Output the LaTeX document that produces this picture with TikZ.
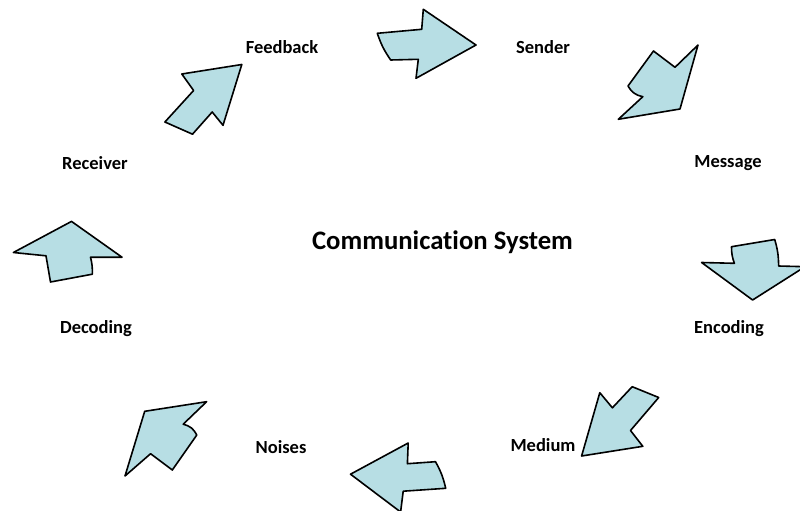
\documentclass[tikz,border=0pt]{standalone}
\usepackage{fontspec}
\setmainfont{Carlito}[Ligatures=NoCommon]
\definecolor{arrowfill}{RGB}{183,222,228}

\begin{document}
\begin{tikzpicture}[x=1pt,y=-1pt,
  blockarrow/.style={draw=black, fill=arrowfill, line width=1.6pt, line join=round},
  lbl/.style={font=\fontsize{18.5}{20}\selectfont\bfseries, inner sep=0pt},
  heading/.style={font=\fontsize{26.7}{30}\selectfont\bfseries, inner sep=0pt}]
\useasboundingbox (0,0) rectangle (800,511);
\clip (0,0) rectangle (800,511);
% labels
\node [heading] (system) at (442.5,242) {Communication System};
\node [lbl] (feedback) at (282,47) {Feedback};
\node [lbl] (sender) at (543,47) {Sender};
\node [lbl] (message) at (728,163) {Message};
\node [lbl] (encoding) at (729,329) {Encoding};
\node [lbl] (medium) at (543,445) {Medium};
\node [lbl] (noises) at (281,447) {Noises};
\node [lbl] (decoding) at (96,329) {Decoding};
\node [lbl] (receiver) at (95,163) {Receiver};
% feedback to sender
\draw [blockarrow] (377.3,33.3) -- (421.7,29.3) -- (423.3,9.3) -- (476,45) -- (416,78.3)
  -- (418.3,59.3) -- (390.7,60) to[bend left=8] cycle;
% sender to message
\draw [blockarrow] (653.5,51) -- (675,67.3) -- (698,45) -- (680,109) -- (618.3,119.3)
  -- (642.8,96.7) to[bend left=25] (628,86) -- cycle;
% message to encoding
\draw [blockarrow] (731.5,246.7) -- (774.7,239.5) to[bend left=8] (778.6,266) -- (805,266.7)
  -- (752.6,300) -- (701.6,262.5) -- (734.4,263.3) to[bend left=10] cycle;
% encoding to medium
\draw [blockarrow] (599.8,392.7) -- (612.4,407.8) -- (632.2,386.7) -- (658.7,397.5)
  -- (630.5,430.5) -- (642.8,446.3) -- (581.6,456) -- cycle;
% medium to noises
\draw [blockarrow] (408.2,443) -- (407.4,463.7) -- (435.5,461.7) to[bend left=8] (445.7,488.3)
  -- (403.2,491.2) -- (400.6,512) -- (350.5,474.2) -- cycle;
% noises to decoding
\draw [blockarrow] (144.7,411.3) -- (206.6,401.7) -- (183.2,424.2) to[bend left=25] (196.8,435)
  -- (172.3,470) -- (150.6,453.7) -- (125,476) -- cycle;
% decoding to receiver
\draw [blockarrow] (13.4,252.5) -- (71.5,221.4) -- (122,257.2) -- (90.5,257.2)
  to[bend left=8] (92.3,274.2) -- (50.5,282) -- (46,255.8) -- cycle;
% receiver to feedback
\draw [blockarrow] (181.8,74) -- (241.8,64.5) -- (223,125.3) -- (212.2,112) -- (192.5,134.2)
  -- (164.9,122) -- (193.6,90.5) -- cycle;
\end{tikzpicture}
\end{document}
